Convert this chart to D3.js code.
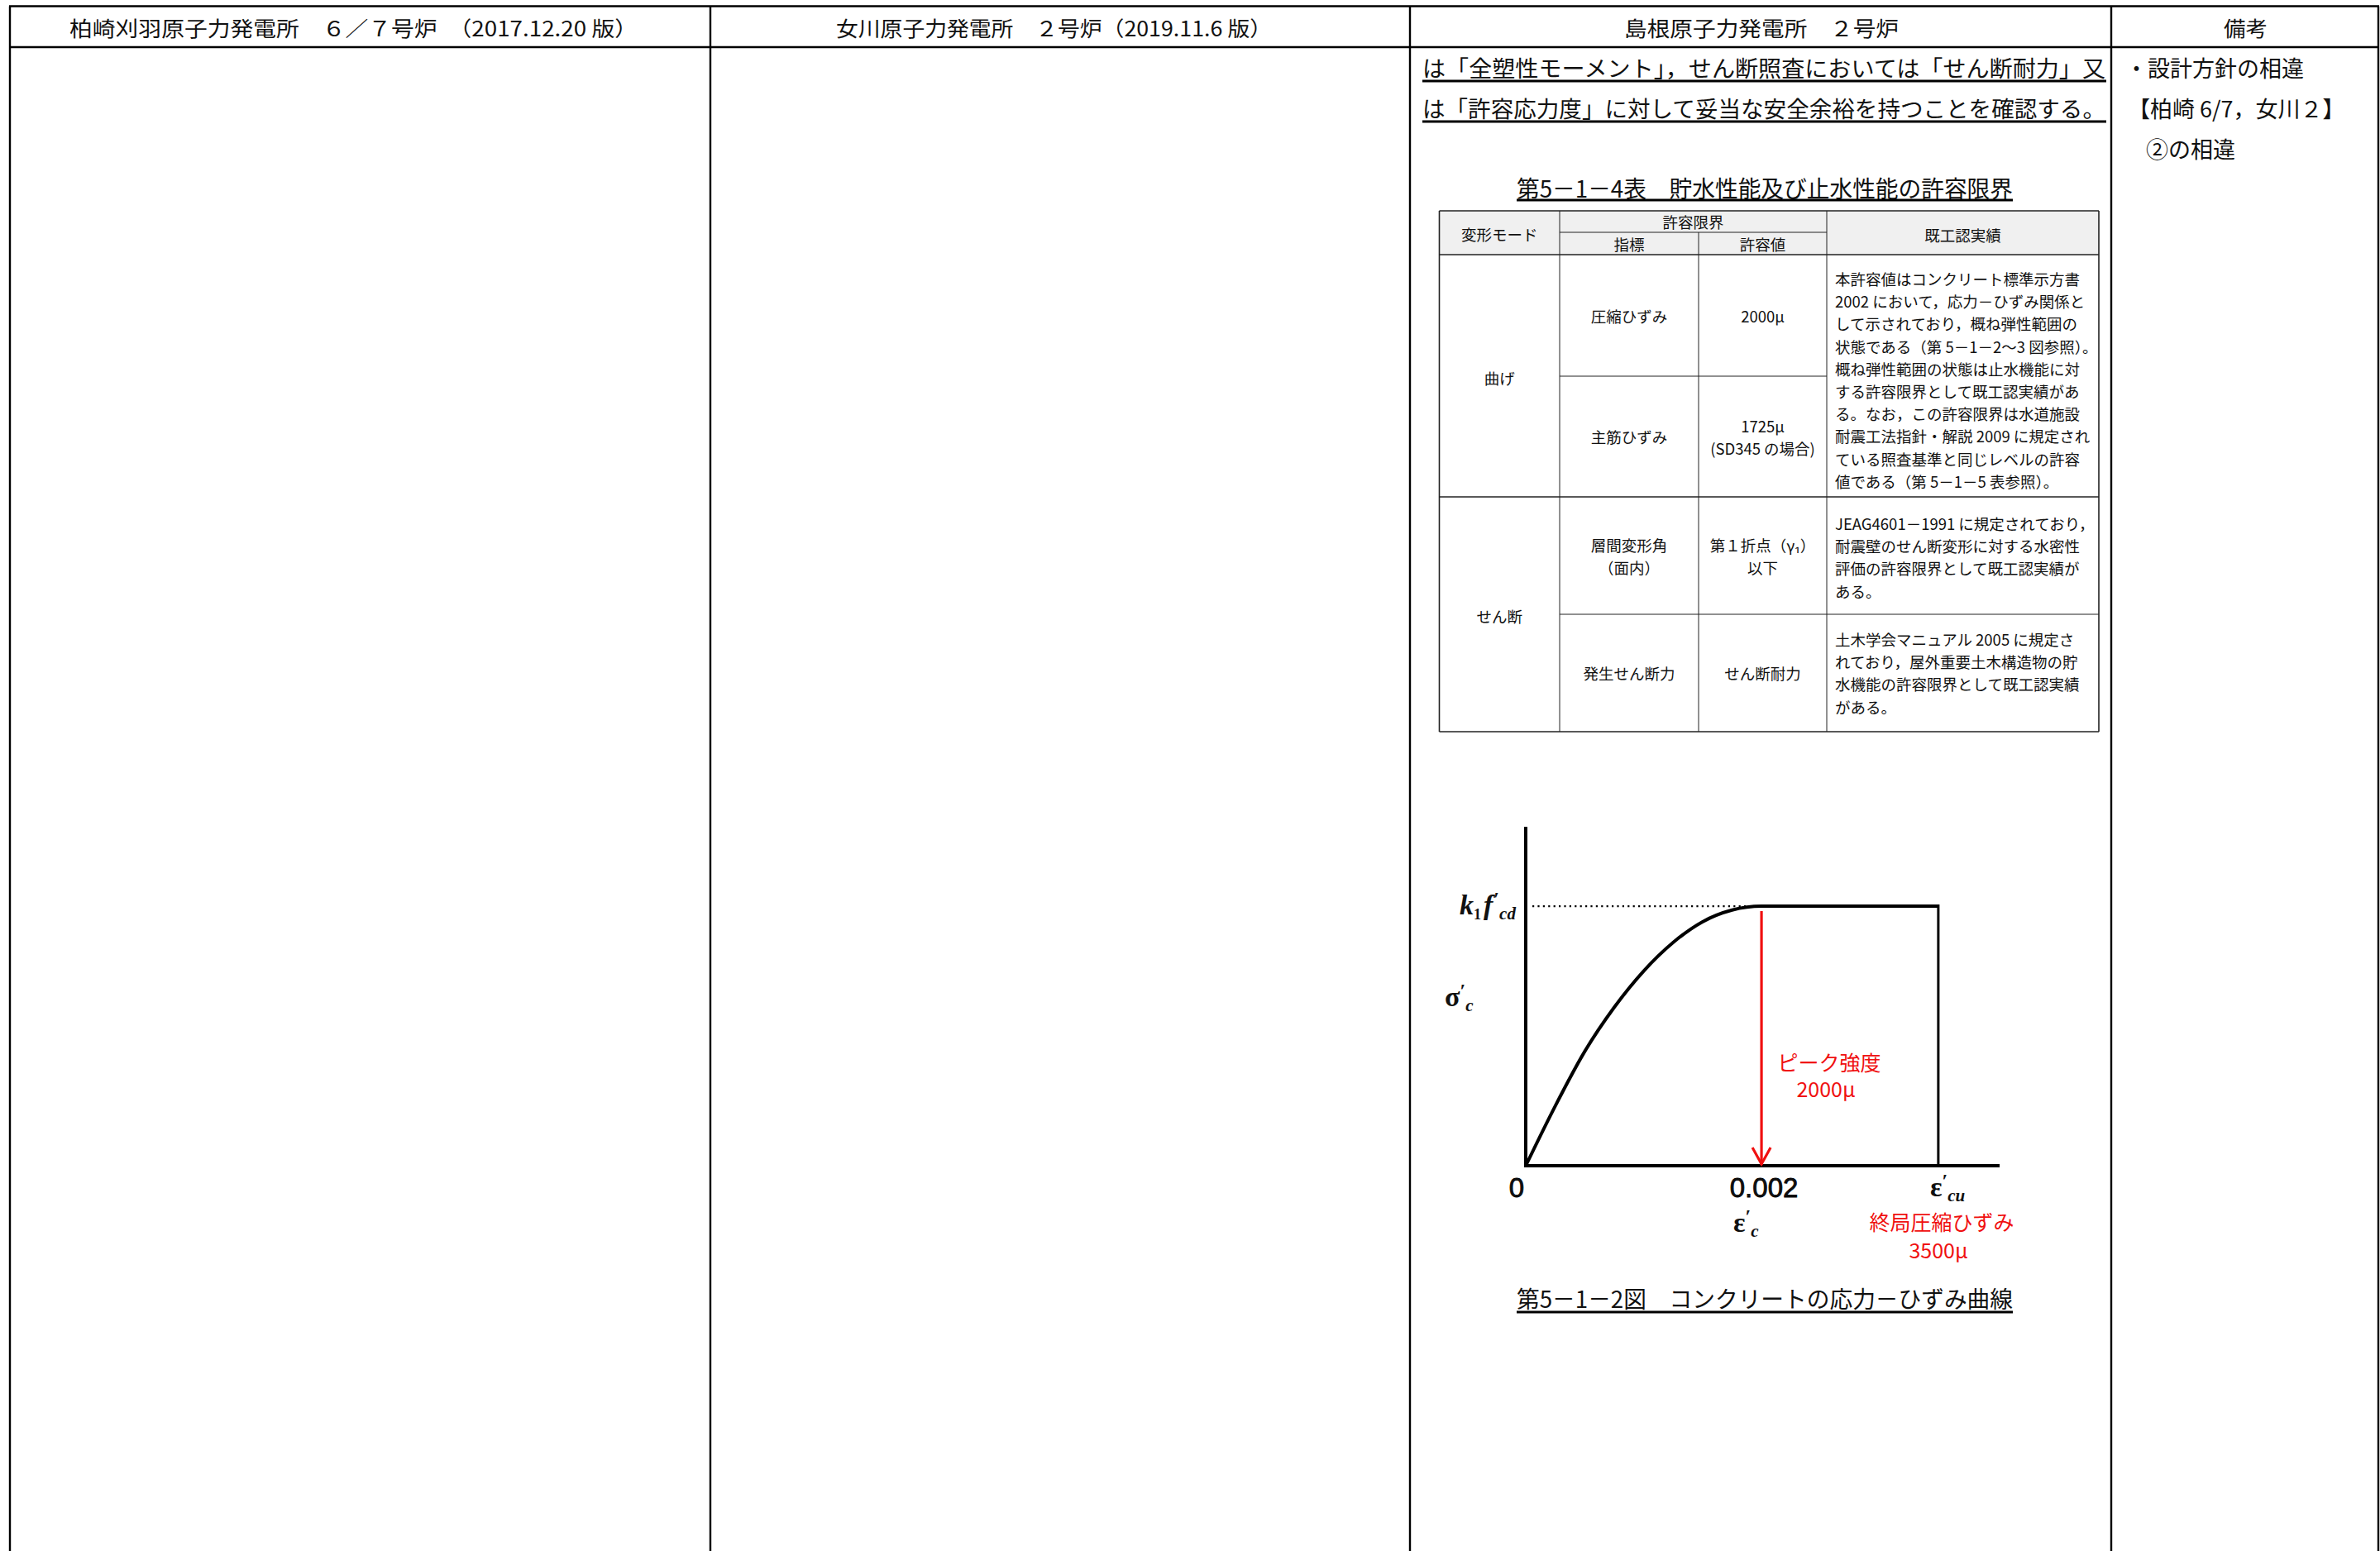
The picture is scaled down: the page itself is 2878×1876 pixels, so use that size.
<!DOCTYPE html>
<html><head><meta charset="utf-8">
<script src="https://cdn.jsdelivr.net/npm/d3@7"></script>
<style>
html,body{margin:0;padding:0;background:#fff;}
svg{display:block;}
text{font-family:"Noto Sans CJK JP","Noto Sans",sans-serif;fill:#111;}
</style></head>
<body>
<svg id="c" width="2878" height="1876"></svg>
<script>
// ---------------- data ----------------
const headers = ["柏崎刈羽原子力発電所　６／７号炉　（2017.12.20 版）", "女川原子力発電所　２号炉（2019.11.6 版）", "島根原子力発電所　２号炉", "備考"];
const bodyLines = ["は「全塑性モーメント」，せん断照査においては「せん断耐力」又", "は「許容応力度」に対して妥当な安全余裕を持つことを確認する。"];
const noteLines = ["・設計方針の相違", "【柏崎 6/7，女川２】", "②の相違"];
const tableTitle = "第5－1－4表　貯水性能及び止水性能の許容限界";
const tableHeader = ["変形モード", "許容限界", "指標", "許容値", "既工認実績"];
const modes = ["曲げ", "せん断"];
const indicators = [["圧縮ひずみ"], ["主筋ひずみ"], ["層間変形角", "（面内）"], ["発生せん断力"]];
const allowables = [["2000μ"], ["1725μ", "(SD345 の場合)"], ["第１折点（γ₁）", "以下"], ["せん断耐力"]];
const records = [
  ["本許容値はコンクリート標準示方書", "2002 において，応力－ひずみ関係と", "して示されており，概ね弾性範囲の", "状態である（第 5－1－2～3 図参照）。", "概ね弾性範囲の状態は止水機能に対", "する許容限界として既工認実績があ", "る。なお，この許容限界は水道施設", "耐震工法指針・解説 2009 に規定され", "ている照査基準と同じレベルの許容", "値である（第 5－1－5 表参照）。"],
  ["JEAG4601－1991 に規定されており，", "耐震壁のせん断変形に対する水密性", "評価の許容限界として既工認実績が", "ある。"],
  ["土木学会マニュアル 2005 に規定さ", "れており，屋外重要土木構造物の貯", "水機能の許容限界として既工認実績", "がある。"]
];
// stress–strain curve (strain ×10^-3, stress / k1f'cd)
const strain = [0, 0.25, 0.5, 0.75, 1.0, 1.25, 1.5, 1.75, 2.0, 3.5];
const stress = [0, 0.23, 0.44, 0.61, 0.75, 0.86, 0.94, 0.985, 1.0, 1.0];
const peakStrain = 2.0, ultStrain = 3.5;
const xTickLabels = ["0", "0.002"];
const redLabels = [["ピーク強度", "2000μ"], ["終局圧縮ひずみ", "3500μ"]];
const figCaption = "第5－1－2図　コンクリートの応力－ひずみ曲線";

// ---------------- layout ----------------
const svg = d3.select("#c");
const W = 2878, H = 1876;
const colX = [12, 859, 1705, 2553, 2876];
const topY = 7.5, headBot = 57;

// frame
const g = svg.append("g");
g.append("line").attr("x1", colX[0]-1).attr("x2", colX[4]+1).attr("y1", topY).attr("y2", topY).attr("stroke", "#000").attr("stroke-width", 2.6);
g.append("line").attr("x1", colX[0]).attr("x2", colX[4]).attr("y1", headBot).attr("y2", headBot).attr("stroke", "#000").attr("stroke-width", 2.4);
colX.forEach(x => g.append("line").attr("x1", x).attr("x2", x).attr("y1", topY).attr("y2", H).attr("stroke", "#000").attr("stroke-width", 2.4));

// header texts
const headSpec = [[84, 687], [1011, 527], [1964, 332], [2689, 53]];
headers.forEach((t, i) => {
  g.append("text").attr("x", headSpec[i][0]).attr("y", 33).attr("dominant-baseline", "central")
    .attr("font-size", 25).attr("textLength", headSpec[i][1]).attr("lengthAdjust", "spacingAndGlyphs").text(t);
});

// body text with underlines
bodyLines.forEach((t, i) => {
  const y = 81 + i * 49;
  g.append("text").attr("x", 1720).attr("y", y).attr("dominant-baseline", "central").attr("font-size", 27)
    .attr("textLength", 826).attr("lengthAdjust", "spacingAndGlyphs").text(t);
  g.append("line").attr("x1", 1720).attr("x2", 2547).attr("y1", y + 17).attr("y2", y + 17).attr("stroke", "#000").attr("stroke-width", 3);
});

// notes
const noteX = [2570, 2573, 2595];
noteLines.forEach((t, i) => {
  g.append("text").attr("x", noteX[i]).attr("y", 81 + i * 49).attr("dominant-baseline", "central").attr("font-size", 27).text(t);
});

// table title
g.append("text").attr("x", 1834).attr("y", 227).attr("dominant-baseline", "central").attr("font-size", 28)
  .attr("textLength", 600).attr("lengthAdjust", "spacingAndGlyphs").text(tableTitle);
g.append("line").attr("x1", 1834).attr("x2", 2434).attr("y1", 242).attr("y2", 242).attr("stroke", "#000").attr("stroke-width", 3);

// table
const tx = [1740.5, 1886, 2054, 2209, 2538];
const ty = {top: 255, sub: 281, head: 308, r1: 455, r2: 601, r3: 743, bot: 885};
const tg = svg.append("g");
tg.append("rect").attr("x", tx[0]).attr("y", ty.top).attr("width", tx[4]-tx[0]).attr("height", ty.head-ty.top).attr("fill", "#f0f0f0");
const tline = (x1, y1, x2, y2, w) => tg.append("line").attr("x1", x1).attr("y1", y1).attr("x2", x2).attr("y2", y2).attr("stroke", "#222").attr("stroke-width", w);
tline(tx[0], ty.top, tx[4], ty.top, 1.6);
tline(tx[0], ty.bot, tx[4], ty.bot, 1.6);
tline(tx[0], ty.top, tx[0], ty.bot, 1.6);
tline(tx[4], ty.top, tx[4], ty.bot, 1.6);
tline(tx[1], ty.sub, tx[3], ty.sub, 1);
tline(tx[0], ty.head, tx[4], ty.head, 1.3);
tline(tx[0], ty.r2, tx[4], ty.r2, 1.3);
tline(tx[1], ty.r1, tx[3], ty.r1, 1);
tline(tx[1], ty.r3, tx[4], ty.r3, 1);
tline(tx[1], ty.top, tx[1], ty.bot, 1);
tline(tx[2], ty.sub, tx[2], ty.bot, 1);
tline(tx[3], ty.top, tx[3], ty.bot, 1);

const ct = (x, y, t, fs, anchor) => tg.append("text").attr("x", x).attr("y", y).attr("dominant-baseline", "central")
  .attr("text-anchor", anchor || "middle").attr("font-size", fs || 18.5).text(t);
ct((tx[0]+tx[1])/2, 283, tableHeader[0]);
ct((tx[1]+tx[3])/2, 268, tableHeader[1]);
ct((tx[1]+tx[2])/2, 295, tableHeader[2]);
ct((tx[2]+tx[3])/2, 295, tableHeader[3]);
ct((tx[3]+tx[4])/2, 284, tableHeader[4]);
ct((tx[0]+tx[1])/2, 457, modes[0]);
ct((tx[0]+tx[1])/2, 745, modes[1]);
const rowMid = [(ty.head+ty.r1)/2, (ty.r1+ty.r2)/2, (ty.r2+ty.r3)/2, (ty.r3+ty.bot)/2];
indicators.forEach((ls, i) => ls.forEach((t, j) => ct((tx[1]+tx[2])/2, rowMid[i] + (j - (ls.length-1)/2) * 27, t)));
allowables.forEach((ls, i) => ls.forEach((t, j) => ct((tx[2]+tx[3])/2, rowMid[i] + (j - (ls.length-1)/2) * 27, t)));
const recStart = [337, 633, 773];
records.forEach((ls, i) => ls.forEach((t, j) => ct(2219, recStart[i] + j * 27.2, t, 18.5, "start")));

// ---------------- chart ----------------
const x = d3.scaleLinear().domain([0, 4.02]).range([1845, 2418]);
const y = d3.scaleLinear().domain([0, 1.306]).range([1410, 1000]);
const cg = svg.append("g");
// axes
cg.append("line").attr("x1", x(0)).attr("x2", x(0)).attr("y1", y(1.306)).attr("y2", y(0) + 2).attr("stroke", "#000").attr("stroke-width", 4);
cg.append("line").attr("x1", x(0) - 2).attr("x2", x(4.02)).attr("y1", y(0)).attr("y2", y(0)).attr("stroke", "#000").attr("stroke-width", 4);
// dotted reference
cg.append("line").attr("x1", x(0) + 8).attr("x2", x(peakStrain) - 8).attr("y1", y(1)).attr("y2", y(1))
  .attr("stroke", "#000").attr("stroke-width", 2.2).attr("stroke-dasharray", "2.2,4.2");
// curve
const pts = strain.map((s, i) => [s, stress[i]]);
cg.append("path").datum(pts).attr("fill", "none").attr("stroke", "#000").attr("stroke-width", 4).attr("stroke-linejoin", "round")
  .attr("d", d3.line().x(d => x(d[0])).y(d => y(d[1])).curve(d3.curveMonotoneX));
cg.append("line").attr("x1", x(ultStrain)).attr("x2", x(ultStrain)).attr("y1", y(1) - 2).attr("y2", y(0)).attr("stroke", "#000").attr("stroke-width", 3);
// red arrow
const red = "#f01010";
cg.append("line").attr("x1", x(peakStrain)).attr("x2", x(peakStrain)).attr("y1", y(1) + 6).attr("y2", y(0) - 1).attr("stroke", red).attr("stroke-width", 3.2);
cg.append("path").attr("d", `M${x(peakStrain)-11},${y(0)-22} L${x(peakStrain)},${y(0)-2} L${x(peakStrain)+11},${y(0)-22}`)
  .attr("fill", "none").attr("stroke", red).attr("stroke-width", 3.2);

// tick labels
const tickFont = "'Liberation Sans', Arial, sans-serif";
const tickPos = [0, peakStrain];
const tickOff = [-11, 3];
xTickLabels.forEach((t, i) => {
  cg.append("text").attr("x", x(tickPos[i]) + tickOff[i]).attr("y", 1436).attr("dominant-baseline", "central").attr("text-anchor", "middle")
    .style("font-family", tickFont).attr("font-size", 33).attr("stroke", "#000").attr("stroke-width", 0.8).text(t);
});
const serif = "'Liberation Serif', 'DejaVu Serif', serif";
// symbol with prime and subscript, laid out without overlapping pieces
function sym(xp, yp, base, sub, italicBase) {
  const t = cg.append("text").attr("x", xp).attr("y", yp).style("font-family", serif).attr("font-size", 34).attr("font-weight", "bold");
  if (italicBase) t.attr("font-style", "italic");
  t.append("tspan").text(base);
  t.append("tspan").attr("dy", -11).attr("dx", 0).attr("font-size", 24).attr("font-style", "normal").text("′");
  t.append("tspan").attr("dy", 17).attr("dx", 0).attr("font-size", 21).attr("font-style", "italic").text(sub);
  return t;
}
sym(x(ultStrain) - 10, 1447, "ε", "cu");
sym(x(peakStrain) - 34, 1490, "ε", "c");
sym(1747, 1217, "σ", "c");
// k1 f'cd
const kf = cg.append("text").attr("x", 1765).attr("y", y(1) + 10).style("font-family", serif).attr("font-size", 34).attr("font-style", "italic").attr("font-weight", "bold");
kf.append("tspan").text("k");
kf.append("tspan").attr("dy", 6).attr("font-size", 18).attr("font-style", "normal").text("1");
kf.append("tspan").attr("dy", -6).attr("dx", 3).text("f");
kf.append("tspan").attr("dy", -11).attr("dx", 1).attr("font-size", 24).attr("font-style", "normal").text("′");
kf.append("tspan").attr("dy", 17).attr("dx", 0).attr("font-size", 21).text("cd");

// red annotation labels
const redPos = [[2212, 1284, 2208, 1316], [2348, 1477, 2344, 1511]];
redLabels.forEach((ls, i) => {
  cg.append("text").attr("x", redPos[i][0]).attr("y", redPos[i][1]).attr("dominant-baseline", "central").attr("text-anchor", "middle")
    .attr("font-size", 25).style("fill", red).text(ls[0]);
  cg.append("text").attr("x", redPos[i][2]).attr("y", redPos[i][3]).attr("dominant-baseline", "central").attr("text-anchor", "middle")
    .attr("font-size", 25).style("fill", red).text(ls[1]);
});

// caption
cg.append("text").attr("x", 1834).attr("y", 1570).attr("dominant-baseline", "central").attr("font-size", 28)
  .attr("textLength", 600).attr("lengthAdjust", "spacingAndGlyphs").text(figCaption);
cg.append("line").attr("x1", 1834).attr("x2", 2434).attr("y1", 1587).attr("y2", 1587).attr("stroke", "#000").attr("stroke-width", 3);
</script>
</body></html>
